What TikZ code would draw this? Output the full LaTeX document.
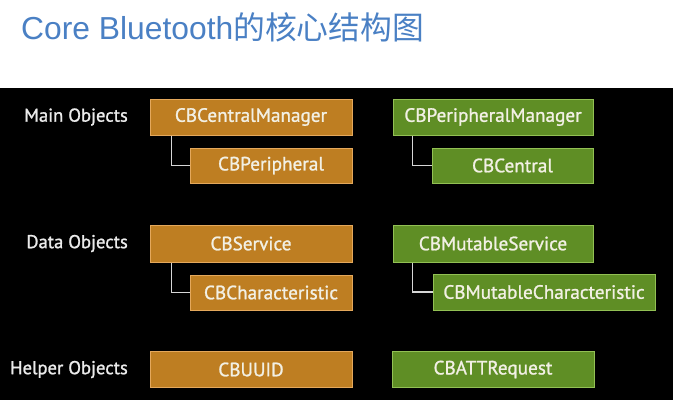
\documentclass[tikz,border=0pt]{standalone}
\usepackage{fontspec}
\setmainfont{PT Sans}
\newfontfamily\boxfont[FakeBold=1.2]{PT Sans}
\newfontfamily\titlefont{Liberation Sans}
\newfontfamily\cjk{Noto Sans CJK SC}
\usepackage{xcolor}
\usepackage{tikz}
\usetikzlibrary{positioning}

\definecolor{titleblue}{RGB}{74,128,196}
\definecolor{orfill}{RGB}{190,126,34}
\definecolor{ordraw}{RGB}{228,168,92}
\definecolor{grfill}{RGB}{95,142,37}
\definecolor{grdraw}{RGB}{146,192,84}
\definecolor{boxtext}{RGB}{242,240,228}
\definecolor{linkgray}{RGB}{214,214,214}

\begin{document}
\begin{tikzpicture}[x=1pt, y=-1pt,
    orbox/.style={draw=ordraw, fill=orfill, line width=1pt, text=boxtext, minimum height=36pt, inner sep=0pt, font=\boxfont\fontsize{19.2}{21}\selectfont},
    grbox/.style={draw=grdraw, fill=grfill, line width=1pt, text=boxtext, minimum height=36pt, inner sep=0pt, font=\boxfont\fontsize{19.2}{21}\selectfont},
    rowlabel/.style={anchor=east, text=white!92!black, inner sep=0pt, font=\boxfont\fontsize{18.6}{20}\selectfont},
    link/.style={draw=linkgray, line width=1.6pt}]
            \useasboundingbox (0,0) rectangle (673,402);
            \fill[black] (0,88) rectangle (673,400);
            % title
            \draw (21,39.5) node[anchor=base west, inner sep=0pt, text=titleblue, font=\fontsize{31.8}{34}\selectfont] (title) {{\titlefont Core Bluetooth}{\cjk 的核心结构图}};
            % row labels
            \draw (128,117) node[rowlabel]                  (main) {Main Objects};
            \draw (128,243.5) node[rowlabel]                (data) {Data Objects};
            \draw (128,369.5) node[rowlabel]                (help) {Helper Objects};
            % central side
            \draw (251,117) node[orbox, minimum width=202pt]       (cm) {CBCentralManager};
            \draw (271,165.5) node[orbox, minimum width=162pt, minimum height=35pt] (cp) {CBPeripheral};
            \draw (251,243.5) node[orbox, minimum width=202pt, minimum height=37pt] (sv) {CBService};
            \draw (271,292.5) node[orbox, minimum width=162pt, minimum height=35pt] (ch) {CBCharacteristic};
            \draw (251,369.5) node[orbox, minimum width=202pt]     (uu) {CBUUID};
            % peripheral side
            \draw (493,117) node[grbox, minimum width=200pt]       (pm) {CBPeripheralManager};
            \draw (512.5,165.5) node[grbox, minimum width=161pt, minimum height=35pt] (pc) {CBCentral};
            \draw (493,243.5) node[grbox, minimum width=200pt, minimum height=37pt] (ms) {CBMutableService};
            \draw (544,292) node[grbox, minimum width=222pt, minimum height=36pt] (mc) {CBMutableCharacteristic};
            \draw (493,369.5) node[grbox, minimum width=202pt]     (at) {CBATTRequest};
            % links
            \draw[link] ([xshift=22pt]cm.south west) |- (cp.west);
            \draw[link] ([xshift=22pt]sv.south west) |- (ch.west);
            \draw[link] ([xshift=20pt]pm.south west) |- (pc.west);
            \draw[link] ([xshift=20pt]ms.south west) |- (mc.west);
\end{tikzpicture}
\end{document}
